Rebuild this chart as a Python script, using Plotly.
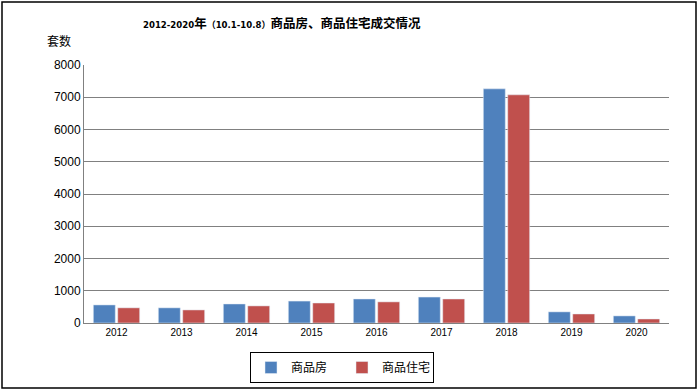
import plotly.graph_objects as go

years = ["2012", "2013", "2014", "2015", "2016", "2017", "2018", "2019", "2020"]
commercial = [560, 470, 590, 680, 745, 805, 7260, 345, 220]
residential = [470, 405, 530, 620, 655, 745, 7075, 280, 125]

W, H = 699, 391
L, R, T, B = 84, 30, 65, 68
pw, ph = W - L - R, H - T - B

def px(x):
    return (x - L) / pw

def py(y):
    return (H - B - y) / ph

fig = go.Figure()
fig.add_trace(go.Bar(x=years, y=commercial, name="商品房", marker_color="#4F81BD"))
fig.add_trace(go.Bar(x=years, y=residential, name="商品住宅", marker_color="#C0504D"))

font_cjk = "Noto Sans CJK SC, SimSun, sans-serif"
narrow = "font-family:'DejaVu Sans Condensed','Liberation Sans Narrow',sans-serif;font-size:9.5px"
par = "font-size:9px"
title = (f"<b><span style=\"{narrow}\">2012-2020</span>年<span style=\"{par}\">（</span>"
         f"<span style=\"{narrow}\">10.1-10.8</span><span style=\"{par}\">）</span>"
         "商品房、商品住宅成交情况</b>")

fig.update_layout(
    width=W, height=H,
    margin=dict(l=L, r=R, t=T, b=B),
    paper_bgcolor="white", plot_bgcolor="white",
    bargap=0.25, bargroupgap=0.1,
    font=dict(family="Liberation Sans, Arial, sans-serif", color="black"),
    showlegend=True,
    legend=dict(
        orientation="h", xref="container", yref="container",
        x=342 / W, xanchor="center", y=1 - 352 / H, yanchor="top",
        bordercolor="black", borderwidth=1, bgcolor="white",
        font=dict(family=font_cjk, size=12), itemwidth=30,
        entrywidth=46, entrywidthmode="pixels",
        tracegroupgap=0,
    ),
    xaxis=dict(
        showline=True, linecolor="#808080", linewidth=1, ticks="",
        tickfont=dict(size=10), showgrid=False,
    ),
    yaxis=dict(
        range=[0, 8000], dtick=1000, showline=True, linecolor="#808080", linewidth=1,
        showgrid=True, gridcolor="#808080", gridwidth=1, tickfont=dict(size=12),
        ticks="", zeroline=False, tickformat="d",
    ),
    annotations=[
        dict(text=title,
             xref="paper", yref="paper", x=px(141), y=py(23), xanchor="left", yanchor="middle",
             showarrow=False, font=dict(family=font_cjk, size=12.5, color="black")),
        dict(text="套数", xref="paper", yref="paper", x=px(45), y=py(40),
             xanchor="left", yanchor="middle", showarrow=False,
             font=dict(family=font_cjk, size=12, color="black")),
    ],
    shapes=[
        dict(type="rect", xref="paper", yref="paper", x0=px(2), x1=px(696), y0=py(388), y1=py(2),
             line=dict(color="black", width=1.5), fillcolor="rgba(0,0,0,0)", layer="below"),
    ],
)

fig.write_html("out.html", config={"displayModeBar": False},
               post_script="document.body.style.margin='0';")
